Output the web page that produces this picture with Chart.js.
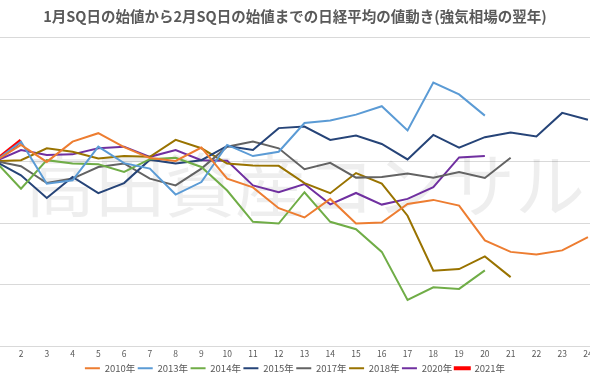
<!DOCTYPE html>
<html>
<head>
<meta charset="utf-8">
<script src="https://cdn.jsdelivr.net/npm/chart.js@4"></script>
<style>
html,body{margin:0;padding:0;background:#fff;}
#wrap{width:590px;height:380px;position:relative;overflow:hidden;}
</style>
</head>
<body>
<div id="wrap"><canvas id="c" width="590" height="380"></canvas></div>
<script>
// ---- data (percent change from the open on the January SQ day) ----
const titleText = '1月SQ日の始値から2月SQ日の始値までの日経平均の値動き(強気相場の翌年)';
const watermarkText = '高田資産コンサル';
const days = [1,2,3,4,5,6,7,8,9,10,11,12,13,14,15,16,17,18,19,20,21,22,23,24];
const seriesNames = ['2010年','2013年','2014年','2015年','2017年','2018年','2020年','2021年'];
const y2010 = [0, 1.31, -0.06, 1.58, 2.26, 1.14, 0.25, 0.02, 1.10, -1.41, -2.12, -3.80, -4.55, -3.05, -5.04, -4.96, -3.46, -3.13, -3.59, -6.40, -7.33, -7.54, -7.21, -6.13];
const y2013 = [0, 1.58, -1.82, -1.55, 1.17, -0.16, -0.60, -2.70, -1.69, 1.31, 0.41, 0.76, 3.08, 3.29, 3.76, 4.44, 2.48, 6.35, 5.39, 3.68];
const y2014 = [0, -2.23, 0.08, -0.19, -0.25, -0.87, 0.16, 0.27, -0.47, -2.37, -4.90, -5.04, -2.51, -4.90, -5.50, -7.33, -11.22, -10.19, -10.32, -8.82];
const y2015 = [0, -1.14, -2.97, -1.28, -2.59, -1.77, 0.12, -0.19, 0.08, 1.23, 0.90, 2.67, 2.80, 1.72, 2.07, 1.39, 0.14, 2.12, 1.09, 1.94, 2.31, 1.99, 3.90, 3.35];
const y2017 = [0, -0.41, -1.77, -1.41, -0.47, -0.19, -1.41, -1.96, -0.60, 1.17, 1.58, 1.04, -0.65, -0.14, -1.33, -1.28, -1.00, -1.33, -0.87, -1.36, 0.27];
const y2018 = [0, 0.08, 1.04, 0.76, 0.22, 0.41, 0.35, 1.72, 1.04, -0.19, -0.35, -0.38, -1.77, -2.59, -0.96, -1.82, -4.41, -8.85, -8.72, -7.70, -9.37];
const y2020 = [0, 0.90, 0.49, 0.55, 1.04, 1.17, 0.35, 0.90, 0.08, 0.04, -1.96, -2.51, -1.85, -3.49, -2.57, -3.51, -3.05, -2.10, 0.30, 0.41];
const y2021 = [0, 1.66];
const yTicks = [-15, -10, -5, 0, 5, 10];

// ---- styles ----
const colors = ['#ED7D31','#5B9BD5','#70AD47','#264478','#636363','#997300','#7030A0','#FF0000'];
const widths = [2,2,2,2,2,2,2,4];
const allValues = [y2010,y2013,y2014,y2015,y2017,y2018,y2020,y2021];

const datasets = allValues.map((vals, i) => ({
  label: seriesNames[i],
  data: vals.map((v, j) => ({x: days[j], y: v})),
  borderColor: colors[i],
  backgroundColor: colors[i],
  borderWidth: widths[i],
  pointRadius: 0,
  pointHoverRadius: 0,
  tension: 0,
  fill: false
}));

const watermark = {
  id: 'watermark',
  beforeDatasetsDraw(chart) {
    const ctx = chart.ctx;
    ctx.save();
    ctx.font = "70px 'Noto Sans CJK JP'";
    ctx.fillStyle = 'rgba(0,0,0,0.065)';
    ctx.textBaseline = 'middle';
    ctx.textAlign = 'left';
    ctx.fillText(watermarkText, 25, 185);
    ctx.restore();
  }
};

const FONT = "'Noto Sans CJK JP', 'Noto Sans', sans-serif";

new Chart(document.getElementById('c'), {
  type: 'line',
  data: { datasets },
  plugins: [watermark],
  options: {
    responsive: false,
    animation: false,
    devicePixelRatio: 1,
    layout: { padding: { left: 0, right: 0, top: 0, bottom: -3 } },
    plugins: {
      title: {
        display: true,
        text: titleText,
        color: '#595959',
        font: { family: FONT, size: 14.5, weight: 'bold' },
        padding: { top: 8, bottom: 12 }
      },
      legend: {
        position: 'bottom',
        labels: {
          boxWidth: 15,
          boxHeight: 2,
          padding: 2.5,
          color: '#595959',
          font: { family: FONT, size: 9.5 },
          generateLabels(chart) {
            const items = Chart.defaults.plugins.legend.labels.generateLabels(chart);
            items.forEach((it, i) => {
              it.fillStyle = colors[i];
              it.strokeStyle = colors[i];
              it.lineWidth = widths[i] > 2 ? 2 : 0;
            });
            return items;
          }
        }
      },
      tooltip: { enabled: false }
    },
    scales: {
      x: {
        type: 'linear',
        min: 1.185,
        max: 24.08,
        grid: { display: false, drawTicks: false },
        border: { display: false },
        ticks: {
          color: '#595959',
          font: { family: FONT, size: 8.5 },
          padding: 2,
          maxRotation: 0,
          autoSkip: false
        },
        afterBuildTicks(scale) {
          scale.ticks = days.filter(d => d >= scale.min && d <= scale.max).map(d => ({ value: d }));
        },
        afterFit(scale) {
          scale.paddingLeft = 0;
          scale.paddingRight = 0;
        }
      },
      y: {
        min: yTicks[0],
        max: yTicks[yTicks.length - 1],
        afterBuildTicks(scale) {
          scale.ticks = yTicks.map(v => ({ value: v }));
        },
        ticks: { display: false },
        grid: { color: '#d9d9d9', drawTicks: false, lineWidth: 1 },
        border: { display: false }
      }
    }
  }
});
</script>
</body>
</html>
